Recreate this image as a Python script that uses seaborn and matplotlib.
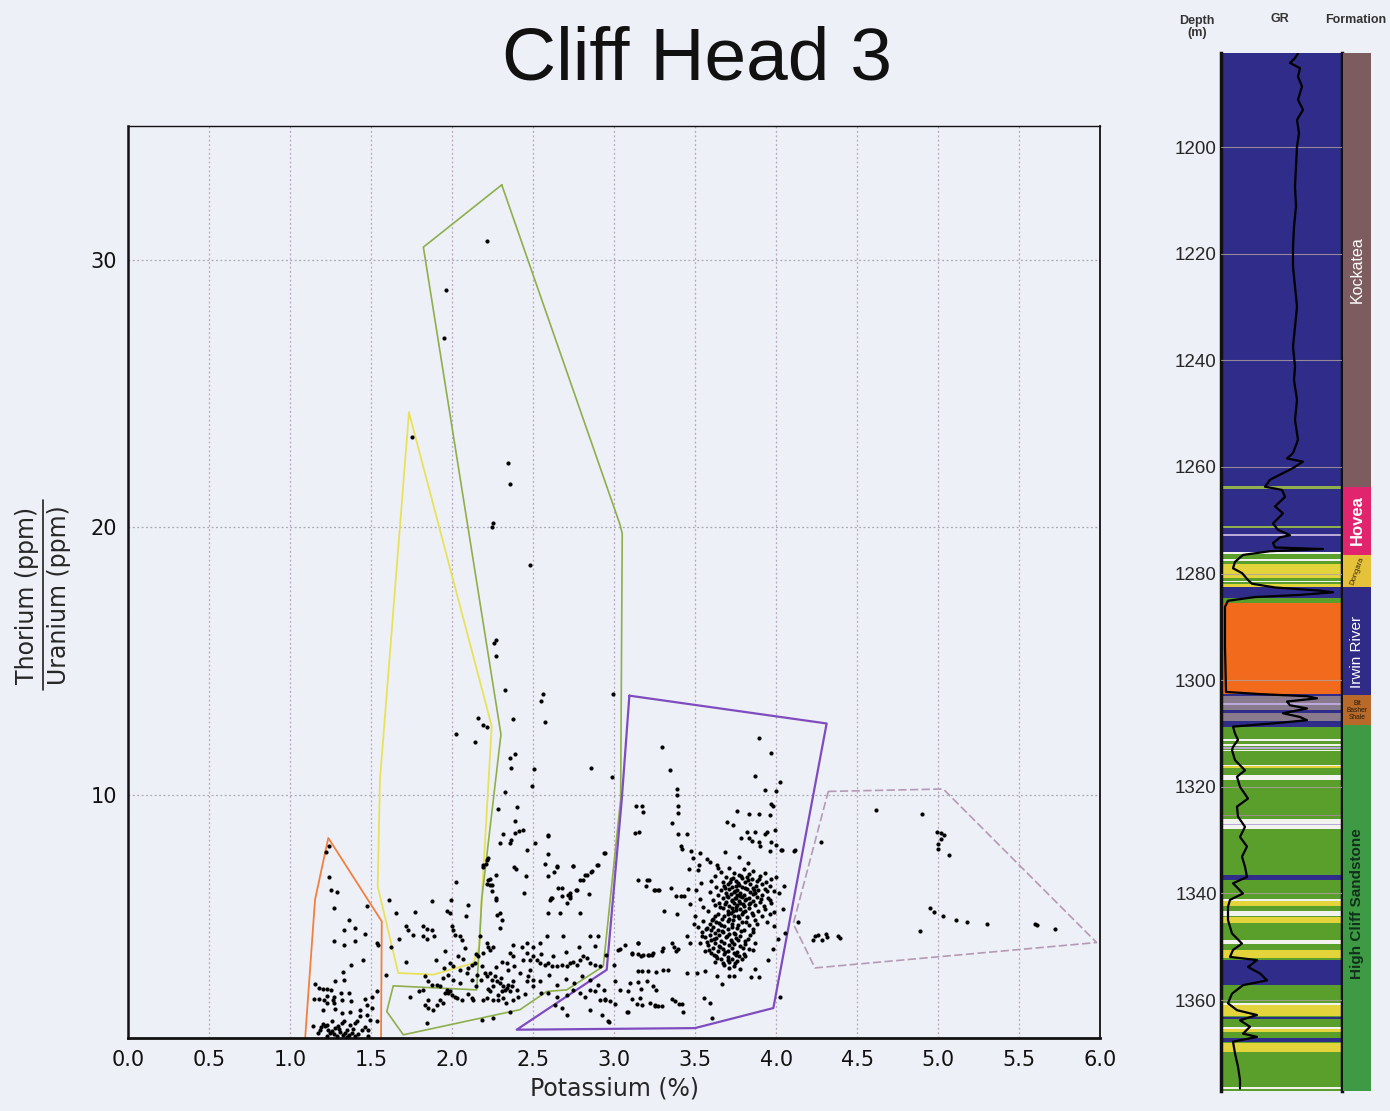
import numpy as np
import pandas as pd
import matplotlib
matplotlib.use("Agg")
import matplotlib.pyplot as plt
from matplotlib.lines import Line2D
import seaborn as sns

sns.set_theme(style="white")
plt.rcParams['font.family'] = ['DejaVu Sans']

BG = '#eef0f7'

# ------------------------------------------------------------------
# Scatter data : (Potassium %, Th/U ratio)
# ------------------------------------------------------------------
pts_high = [(2.213, 30.70), (1.960, 28.86), (1.951, 27.07), (1.750, 23.38), (2.343, 22.40),
            (2.355, 21.60), (2.252, 20.16), (2.244, 20.00), (2.482, 18.59), (2.272, 15.80),
            (2.260, 15.67), (2.272, 15.17), (2.324, 13.91), (2.561, 13.78), (2.550, 13.49),
            (2.995, 13.78)]

pts_upper_mid = [(2.159, 12.85), (2.373, 12.82), (2.571, 12.73), (2.190, 12.59), (2.213, 12.52),
                 (2.022, 12.27), (2.141, 11.95), (2.386, 11.51), (2.355, 11.36), (2.363, 10.98),
                 (2.503, 10.96), (2.855, 10.98), (2.493, 10.34), (2.987, 10.67), (2.324, 10.09),
                 (2.281, 9.48), (2.402, 9.53), (3.137, 9.59), (3.176, 9.34), (2.386, 9.00),
                 (3.155, 8.60), (2.312, 8.54), (2.386, 8.57), (2.414, 8.63), (2.435, 8.68),
                 (2.592, 8.47), (2.295, 8.18), (2.355, 8.18), (2.365, 8.31), (2.511, 8.18),
                 (2.460, 7.93), (2.935, 7.80), (2.592, 7.78), (2.219, 7.62), (2.211, 7.41),
                 (2.190, 7.31), (2.383, 7.28), (2.394, 7.21), (2.571, 7.39), (2.649, 7.31),
                 (2.631, 7.12), (2.746, 7.33), (2.898, 7.36), (2.855, 7.12), (2.818, 6.98),
                 (2.272, 7.01), (2.454, 6.97), (2.592, 6.94), (2.787, 6.81), (2.022, 6.72),
                 (2.232, 6.83), (2.213, 6.66), (2.244, 6.62), (2.680, 6.49), (2.765, 6.43),
                 (2.729, 6.34), (2.726, 6.22), (2.846, 6.28), (2.445, 6.34), (2.272, 6.13),
                 (2.612, 6.13), (3.217, 6.81), (3.195, 6.57), (3.248, 6.42), (3.275, 6.42),
                 (2.593, 8.50), (2.944, 7.82), (2.892, 7.38), (2.861, 7.13), (2.830, 7.01),
                 (2.810, 6.82), (2.748, 7.32), (2.645, 7.32), (3.149, 6.82), (3.170, 9.56),
                 (3.129, 8.57), (3.201, 6.82), (3.252, 6.45), (3.273, 6.45)]

pts_lowk = [(1.241, 8.07), (1.219, 7.84), (1.241, 6.91), (1.250, 6.45), (1.291, 6.36),
            (1.272, 5.76), (1.472, 5.82), (1.363, 5.32), (1.332, 4.95), (1.400, 5.01),
            (1.462, 4.79), (1.272, 4.54), (1.334, 4.39), (1.402, 4.54), (1.534, 4.45),
            (1.544, 4.39), (1.451, 3.83), (1.373, 3.64), (1.328, 3.35), (1.332, 3.08),
            (1.153, 2.92), (1.180, 2.77), (1.204, 2.75), (1.229, 2.73), (1.250, 2.70),
            (1.276, 3.02), (1.534, 2.64), (1.148, 2.37), (1.180, 2.36), (1.210, 2.33),
            (1.229, 2.48), (1.262, 2.33), (1.272, 2.45), (1.311, 2.58), (1.363, 2.58),
            (1.225, 2.21), (1.270, 2.21), (1.318, 2.33), (1.375, 2.27), (1.462, 2.36),
            (1.503, 2.43), (1.200, 1.96), (1.276, 1.98), (1.318, 1.83), (1.369, 1.89),
            (1.431, 1.96), (1.476, 2.14), (1.503, 2.02), (1.431, 1.71), (1.476, 1.77),
            (1.492, 1.56), (1.534, 1.52), (1.142, 1.33), (1.184, 1.21), (1.215, 1.33),
            (1.235, 1.21), (1.245, 1.08), (1.276, 1.27), (1.297, 1.33), (1.307, 1.14),
            (1.328, 1.02), (1.349, 1.21), (1.369, 1.40), (1.379, 1.08), (1.400, 1.46),
            (1.414, 1.52), (1.441, 1.21), (1.482, 1.21), (1.482, 0.96), (1.173, 1.08),
            (1.256, 1.52), (1.225, 0.96), (1.287, 0.96), (1.349, 0.94), (1.200, 1.43),
            (1.318, 1.46), (1.26, 1.15), (1.30, 1.25), (1.34, 1.10), (1.39, 1.25),
            (1.42, 1.05), (1.46, 1.30), (1.19, 1.30), (1.23, 1.40), (1.33, 1.55),
            (1.36, 1.00), (1.27, 1.05), (1.40, 0.98)]

pts_mid = [(1.591, 3.27), (1.610, 6.07), (1.651, 5.57), (1.715, 5.10), (1.729, 4.95),
           (1.760, 4.76), (1.770, 5.61), (1.715, 3.76), (1.822, 5.07), (1.846, 4.99),
           (1.873, 4.95), (1.889, 4.70), (1.822, 4.70), (1.873, 6.01), (1.843, 4.61),
           (1.832, 3.20), (1.852, 3.02), (1.873, 2.89), (1.822, 2.70), (1.797, 2.64),
           (1.852, 2.33), (1.832, 2.14), (1.852, 2.02), (1.880, 1.96), (1.904, 2.14),
           (1.925, 2.33), (1.945, 2.21), (1.843, 1.46), (1.904, 2.89), (1.925, 2.83),
           (1.945, 3.14), (1.956, 2.58), (1.966, 2.70), (1.976, 2.58), (1.986, 2.64),
           (1.997, 2.52), (2.007, 3.08), (2.017, 2.45), (2.028, 2.39), (2.059, 2.33),
           (1.976, 3.27), (1.956, 4.14), (1.986, 3.70), (2.007, 3.58), (2.038, 3.95),
           (2.065, 3.85), (1.966, 5.63), (1.986, 5.57), (1.997, 5.07), (2.003, 4.95),
           (2.017, 4.76), (2.048, 4.70), (2.059, 4.58), (1.993, 6.07), (2.083, 5.45),
           (2.100, 5.88), (2.079, 4.26), (2.100, 3.52), (2.120, 3.64), (2.141, 3.70),
           (2.151, 3.27), (2.090, 3.33), (2.120, 3.08), (2.172, 4.70), (2.161, 3.95),
           (2.192, 4.08), (2.213, 4.45), (2.223, 4.32), (2.233, 4.20), (2.254, 4.32),
           (2.192, 7.38), (2.213, 7.57), (2.223, 6.82), (2.233, 6.63), (2.244, 6.38),
           (2.270, 6.07), (2.274, 5.51), (2.295, 5.57), (2.306, 5.32), (2.295, 5.01),
           (2.182, 3.58), (2.203, 3.33), (2.213, 3.20), (2.233, 3.33), (2.244, 3.08),
           (2.264, 3.20), (2.274, 3.02), (2.295, 2.96), (2.316, 2.83), (2.326, 2.70),
           (2.306, 2.64), (2.337, 2.77), (2.357, 2.64), (2.347, 2.89), (2.367, 2.83),
           (2.377, 3.02), (2.254, 2.83), (2.233, 2.64), (2.213, 2.39), (2.192, 2.33),
           (2.254, 2.33), (2.285, 2.33), (2.316, 2.39), (2.377, 2.33), (2.408, 2.45),
           (2.130, 2.33), (2.120, 2.39), (2.182, 1.58), (2.254, 1.65), (2.357, 1.89),
           (2.439, 3.83), (2.460, 4.08), (2.480, 3.83), (2.501, 3.95), (2.522, 3.83),
           (2.542, 3.70), (2.573, 3.64), (2.593, 3.70), (2.614, 3.58), (2.645, 3.58),
           (2.676, 3.64), (2.707, 3.58), (2.727, 3.70), (2.748, 3.76), (2.769, 3.64),
           (2.789, 3.83), (2.810, 3.95), (2.830, 3.89), (2.851, 3.70), (2.882, 3.64),
           (2.913, 3.58), (2.470, 3.20), (2.501, 3.08), (2.542, 3.02), (2.460, 3.02),
           (2.419, 3.33), (2.429, 4.32), (2.460, 4.45), (2.501, 4.32), (2.542, 4.45),
           (2.377, 4.39), (2.357, 4.08), (2.377, 3.95), (2.306, 3.76), (2.337, 3.70),
           (2.347, 3.45), (2.584, 4.70), (2.686, 4.70), (2.604, 6.07), (2.614, 6.13),
           (2.593, 5.57), (2.666, 5.57), (2.676, 6.20), (2.717, 6.26), (2.727, 6.13),
           (2.707, 5.95), (2.655, 6.51), (2.769, 6.45), (2.789, 5.57), (2.851, 4.70),
           (2.902, 4.70), (2.593, 2.58), (2.645, 2.45), (2.707, 2.52), (2.748, 2.70),
           (2.789, 2.58), (2.820, 2.45), (2.851, 2.70), (2.882, 2.64), (2.913, 2.33),
           (2.944, 2.33), (2.975, 2.27), (3.078, 1.89), (2.635, 2.14), (2.676, 2.02),
           (2.707, 1.77), (2.851, 1.96), (2.923, 1.77), (2.964, 1.52), (3.026, 4.20),
           (3.036, 4.23), (3.108, 4.08), (3.149, 4.45), (3.180, 4.01), (3.211, 4.01),
           (3.242, 4.08), (3.098, 2.96), (3.201, 3.02), (3.242, 2.83), (3.159, 2.39),
           (3.221, 2.21), (3.252, 2.14), (3.087, 2.64)]

pts_mid_dense = [(2.05, 2.95), (2.10, 2.55), (2.15, 2.85), (2.18, 3.05), (2.28, 2.50),
                 (2.33, 2.20), (2.40, 2.70), (2.45, 2.55), (2.50, 2.85), (2.55, 2.60),
                 (2.60, 3.25), (2.65, 2.90), (2.70, 3.10), (2.75, 2.95), (2.80, 3.20),
                 (2.85, 3.05), (2.90, 2.90), (2.62, 3.95), (2.70, 4.10), (2.78, 4.30),
                 (2.48, 3.45), (2.38, 3.60), (2.27, 3.55), (2.15, 4.05), (2.05, 3.45),
                 (1.95, 3.50), (1.90, 3.80), (2.55, 4.05), (2.95, 4.00), (2.88, 4.35),
                 (1.62, 4.30), (1.67, 4.60), (1.74, 2.45), (2.22, 2.75), (2.30, 3.15)]

pts_purple = [(3.295, 11.78), (3.347, 10.92), (3.386, 10.21), (3.388, 10.00), (3.893, 12.13),
              (3.970, 11.55), (3.872, 10.69), (4.024, 10.46), (3.931, 10.18), (3.999, 10.15),
              (3.396, 9.56), (3.394, 9.30), (3.357, 8.94), (3.394, 8.53), (3.411, 8.07),
              (3.417, 7.98), (3.448, 8.54), (3.475, 7.90), (3.760, 9.39), (3.835, 9.29),
              (3.893, 9.29), (3.695, 8.96), (3.732, 8.85), (3.962, 9.25), (3.983, 9.56),
              (3.993, 8.69), (3.968, 9.66), (3.822, 8.59), (3.870, 8.59), (3.946, 8.59),
              (3.783, 8.38), (3.835, 8.38), (3.849, 8.25), (3.896, 8.22), (3.900, 8.09),
              (3.931, 8.54), (3.967, 8.23), (4.001, 8.13), (4.032, 7.94), (4.112, 7.88),
              (3.962, 7.89), (3.685, 7.87), (3.769, 7.65), (3.828, 7.44), (3.530, 7.82),
              (3.575, 7.61), (3.590, 7.48), (3.633, 7.37), (3.639, 7.24), (3.487, 7.62),
              (3.463, 7.22), (3.526, 7.37), (3.518, 7.18), (3.351, 6.51), (3.380, 6.20),
              (3.415, 6.20), (3.433, 6.22), (3.458, 6.47), (3.503, 6.42), (3.536, 6.68),
              (3.308, 5.66), (3.388, 5.55), (4.057, 4.81), (4.026, 2.45),
              (2.939, 2.68), (2.942, 2.37), (2.966, 1.50), (3.001, 3.64), (3.005, 3.04),
              (3.007, 2.18), (3.065, 4.39), (3.036, 2.69), (3.084, 1.89), (3.108, 4.05),
              (3.147, 4.05), (3.145, 4.45), (3.168, 3.98), (3.213, 4.01), (3.232, 4.01),
              (3.147, 3.40), (3.170, 3.40), (3.209, 3.40), (3.258, 3.35), (3.300, 3.43),
              (3.334, 3.43), (3.149, 2.98), (3.168, 2.73), (3.257, 2.70), (3.110, 2.37),
              (3.139, 2.17), (3.170, 2.15), (3.252, 2.11), (3.273, 2.11), (3.294, 2.08),
              (3.357, 2.37), (3.376, 2.27), (3.399, 2.18), (3.419, 2.18), (3.427, 1.89),
              (3.294, 4.14), (3.300, 4.26), (3.355, 4.45), (3.370, 4.30), (3.392, 4.23),
              (3.384, 4.14), (3.448, 4.70), (3.468, 4.45), (3.448, 3.33), (3.510, 3.33),
              (3.559, 3.39), (3.633, 3.20), (3.668, 2.92), (3.709, 3.20), (3.742, 3.20),
              (3.555, 2.39), (3.590, 2.21), (3.602, 1.65), (3.845, 3.18), (3.893, 3.18),
              (3.872, 3.48), (3.47, 5.92), (3.50, 5.48), (3.53, 6.11), (3.49, 5.18),
              (3.55, 5.81), (4.00, 6.92), (4.02, 6.31), (4.04, 5.72), (3.99, 5.08),
              (4.01, 4.62), (4.05, 6.58), (3.98, 4.22), (3.95, 3.82)]

pts_cluster = [(3.71, 7.27), (3.80, 7.22), (3.66, 7.12), (3.74, 7.08), (3.86, 7.13), (3.93, 7.06),
               (3.62, 6.96), (3.69, 6.93), (3.77, 6.98), (3.82, 6.92), (3.90, 6.97),
               (3.72, 6.84), (3.79, 6.87), (3.85, 6.83), (3.97, 6.86),
               (3.60, 6.76), (3.67, 6.73), (3.75, 6.78), (3.81, 6.74), (3.88, 6.77), (3.94, 6.72),
               (3.70, 6.66), (3.77, 6.63), (3.84, 6.67), (3.91, 6.64),
               (3.63, 6.55), (3.68, 6.58), (3.73, 6.53), (3.79, 6.56), (3.86, 6.52), (3.96, 6.57),
               (3.66, 6.45), (3.71, 6.47), (3.76, 6.43), (3.82, 6.46), (3.89, 6.44), (3.93, 6.48),
               (3.59, 6.36), (3.69, 6.33), (3.74, 6.37), (3.78, 6.34), (3.84, 6.36), (3.87, 6.32),
               (3.99, 6.38), (3.64, 6.25), (3.72, 6.27), (3.76, 6.23), (3.80, 6.26), (3.91, 6.24),
               (3.67, 6.15), (3.70, 6.17), (3.75, 6.13), (3.79, 6.16), (3.83, 6.14), (3.88, 6.17),
               (3.95, 6.12), (3.61, 6.05), (3.73, 6.07), (3.77, 6.03), (3.81, 6.06), (3.86, 6.04),
               (3.65, 5.95), (3.69, 5.97), (3.74, 5.93), (3.78, 5.96), (3.84, 5.94), (3.90, 5.98),
               (3.97, 5.93), (3.62, 5.86), (3.71, 5.84), (3.76, 5.87), (3.80, 5.83), (3.87, 5.86),
               (3.67, 5.75), (3.73, 5.77), (3.78, 5.73), (3.83, 5.76), (3.93, 5.74),
               (3.58, 5.66), (3.70, 5.63), (3.75, 5.67), (3.81, 5.64), (3.89, 5.66),
               (3.64, 5.55), (3.72, 5.57), (3.79, 5.53), (3.85, 5.56), (3.96, 5.54),
               (3.68, 5.45), (3.74, 5.47), (3.82, 5.43), (3.91, 5.46),
               (3.61, 5.36), (3.71, 5.34), (3.77, 5.37), (3.87, 5.33),
               (3.55, 5.26), (3.63, 5.24), (3.70, 5.27), (3.79, 5.23),
               (3.59, 5.16), (3.66, 5.14), (3.73, 5.17), (3.83, 5.13),
               (3.52, 5.06), (3.61, 5.04), (3.68, 5.07), (3.76, 5.03),
               (3.57, 4.96), (3.64, 4.94), (3.70, 4.97), (3.80, 4.93), (3.86, 4.96),
               (3.54, 4.86), (3.62, 4.84), (3.67, 4.87), (3.74, 4.83),
               (3.59, 4.76), (3.65, 4.74), (3.71, 4.77), (3.78, 4.73), (3.84, 4.76),
               (3.56, 4.66), (3.63, 4.64), (3.69, 4.67), (3.75, 4.63),
               (3.60, 4.56), (3.66, 4.54), (3.72, 4.57), (3.81, 4.53),
               (3.53, 4.46), (3.62, 4.44), (3.68, 4.47), (3.74, 4.43), (3.87, 4.46),
               (3.58, 4.36), (3.65, 4.34), (3.71, 4.37), (3.78, 4.33),
               (3.61, 4.26), (3.67, 4.24), (3.73, 4.27), (3.83, 4.23),
               (3.56, 4.16), (3.64, 4.14), (3.70, 4.17), (3.76, 4.13),
               (3.60, 4.06), (3.68, 4.04), (3.74, 4.07), (3.80, 4.03),
               (3.63, 3.96), (3.70, 3.94), (3.77, 3.97),
               (3.66, 3.86), (3.73, 3.84), (3.79, 3.87),
               (3.62, 3.76), (3.71, 3.74), (3.76, 3.77),
               (3.68, 3.63), (3.74, 3.61), (3.71, 3.51), (3.78, 3.49)]

pts_cluster_core = [(3.735, 6.90), (3.765, 6.71), (3.805, 6.50), (3.745, 6.40), (3.775, 6.21),
                    (3.815, 6.09), (3.695, 6.20), (3.725, 6.02), (3.755, 5.80), (3.795, 5.62),
                    (3.835, 5.90), (3.855, 6.30), (3.875, 6.60), (3.905, 6.10), (3.925, 5.85),
                    (3.705, 5.55), (3.735, 5.30), (3.765, 5.12), (3.665, 4.90), (3.695, 4.70),
                    (3.725, 4.50), (3.655, 4.30), (3.685, 4.10), (3.615, 4.60), (3.645, 5.20),
                    (3.785, 4.90), (3.805, 4.40), (3.755, 4.00), (3.705, 3.80), (3.635, 3.90),
                    (3.575, 4.50), (3.595, 4.95), (3.625, 5.45), (3.655, 5.80), (3.685, 6.50),
                    (3.715, 6.75), (3.835, 7.05), (3.895, 6.85), (3.945, 6.40), (3.965, 6.05),
                    (3.985, 5.60), (3.945, 5.25), (3.885, 5.15), (3.855, 4.85), (3.825, 4.60),
                    (3.795, 4.25), (3.765, 4.55), (3.745, 4.80), (3.725, 5.05), (3.815, 5.25),
                    (3.855, 5.50), (3.765, 5.45), (3.735, 5.65), (3.795, 5.90), (3.755, 6.60),
                    (3.785, 6.95), (3.825, 6.80), (3.865, 6.45), (3.745, 6.15), (3.685, 5.90),
                    (3.665, 5.35), (3.605, 5.30), (3.575, 5.00), (3.545, 4.70), (3.585, 4.20),
                    (3.615, 4.00), (3.675, 3.70), (3.745, 3.70), (3.805, 3.95), (3.855, 4.20)]

pts_right = [(4.615, 9.41), (4.901, 9.26), (4.992, 8.62), (5.018, 8.57), (5.039, 8.50),
             (5.020, 8.35), (4.998, 8.17), (4.998, 7.98), (5.070, 7.74), (4.950, 5.75),
             (4.977, 5.60), (5.029, 5.47), (5.109, 5.31), (5.181, 5.25), (5.303, 5.16),
             (4.889, 4.89), (5.599, 5.16), (5.610, 5.14), (5.722, 4.98), (4.137, 5.24),
             (4.226, 4.55), (4.240, 4.72), (4.261, 4.74), (4.282, 4.58), (4.308, 4.80),
             (4.312, 4.68), (4.384, 4.72), (4.395, 4.64), (4.117, 7.92), (4.035, 7.94),
             (4.275, 8.22)]

# ------------------------------------------------------------------
# Field polygons (K %, Th/U)
# ------------------------------------------------------------------
poly_orange_k = [1.085, 1.153, 1.235, 1.565, 1.560]
poly_orange_thu = [0.3, 6.07, 8.38, 5.26, 0.3]
poly_yellow_k = [1.733, 2.244, 2.182, 2.167, 2.130, 1.883, 1.667, 1.540, 1.554, 1.733]
poly_yellow_thu = [24.29, 12.56, 6.07, 4.32, 3.70, 3.27, 3.33, 6.57, 10.56, 24.29]
poly_green_k = [2.306, 1.822, 2.301, 2.182, 2.167, 2.151, 1.636, 1.596, 1.698, 2.419,
                2.584, 2.707, 2.933, 3.040, 3.050, 3.036, 2.306]
poly_green_thu = [32.80, 30.47, 12.25, 6.07, 4.32, 2.70, 2.85, 1.89, 1.02, 1.96,
                  2.64, 2.70, 3.58, 9.82, 19.76, 20.10, 32.80]
poly_purple_k = [3.094, 4.312, 3.983, 3.499, 2.398, 2.954, 3.047, 3.094]
poly_purple_thu = [13.70, 12.66, 2.02, 1.27, 1.21, 3.45, 9.82, 13.70]
poly_pink_k = [4.322, 5.032, 5.979, 4.240, 4.106, 4.322]
poly_pink_thu = [10.12, 10.21, 4.47, 3.52, 5.17, 10.12]

x_ticks = [0.0, 0.5, 1.0, 1.5, 2.0, 2.5, 3.0, 3.5, 4.0, 4.5, 5.0, 5.5, 6.0]
y_ticks = [10, 20, 30]

# ------------------------------------------------------------------
# Well log data
# ------------------------------------------------------------------
gr_depth = [1182.4, 1183.3, 1184.2, 1185.2, 1186.8, 1188.6, 1191.1, 1193.0, 1194.9, 1197.4,
            1199.9, 1203.6, 1207.4, 1211.1, 1214.9, 1218.7, 1222.4, 1226.2, 1229.9, 1233.7,
            1237.4, 1241.2, 1243.7, 1247.4, 1251.2, 1254.9, 1257.4, 1258.4, 1259.0, 1260.2,
            1262.4, 1263.7, 1264.3, 1265.6, 1267.4, 1268.7, 1270.6, 1271.8, 1272.8, 1273.2,
            1274.3, 1275.1, 1275.4, 1275.8, 1276.5, 1277.8, 1279.0, 1279.9, 1281.2, 1281.9,
            1282.6, 1283.2, 1283.5, 1284.0, 1284.4, 1285.1, 1286.2, 1293.7, 1302.2, 1302.6,
            1303.0, 1303.4, 1304.0, 1304.7, 1305.3, 1306.2, 1306.9, 1307.5, 1308.1, 1308.7,
            1310.0, 1311.2, 1312.5, 1313.1, 1315.0, 1316.9, 1318.1, 1320.0, 1322.2, 1323.7,
            1325.6, 1327.5, 1329.4, 1331.2, 1333.1, 1335.0, 1336.9, 1338.1, 1340.0, 1341.2,
            1342.5, 1345.0, 1347.5, 1349.4, 1350.6, 1351.9, 1352.5, 1353.8, 1355.0, 1356.3,
            1357.2, 1358.8, 1360.6, 1361.9, 1362.8, 1363.8, 1365.0, 1366.3, 1366.9, 1367.8,
            1370.0, 1372.5, 1375.0, 1376.6]
gr_value = [77, 74, 69, 79, 77, 81, 77, 82, 76, 78,
            76, 75, 74, 75, 73, 72, 72, 74, 76, 74,
            72, 74, 73, 76, 74, 77, 72, 66, 82, 72,
            49, 44, 61, 64, 54, 62, 52, 57, 69, 59,
            52, 54, 102, 49, 22, 14, 12, 21, 27, 31,
            54, 99, 112, 79, 34, 7, 4, 4, 5, 39,
            86, 96, 66, 69, 86, 62, 79, 86, 52, 12,
            14, 17, 12, 11, 14, 24, 16, 19, 27, 16,
            17, 24, 19, 26, 21, 24, 26, 12, 22, 9,
            7, 7, 11, 21, 12, 9, 36, 27, 39, 46,
            22, 11, 7, 16, 36, 19, 29, 22, 36, 12,
            14, 17, 19, 19]

lith_colors = {'shale': '#2f2c8a', 'sand': '#5a9e2c', 'silt': '#e4d43c', 'white': '#f2f2ee',
               'coal': '#f26b1d', 'mauve': '#8a7a8e', 'lilac': '#b9a8d8', 'line': '#9c8c8c',
               'thin': '#8fb04a'}
lith_top = [1182.4, 1263.5, 1264.1, 1271.0, 1271.5, 1272.6, 1273.0, 1275.9, 1276.4, 1277.2,
            1277.7, 1278.2, 1280.9, 1281.3, 1281.6, 1281.9, 1282.6, 1284.6, 1285.5, 1302.5,
            1303.0, 1304.3, 1304.6, 1305.5, 1306.1, 1307.7, 1308.7,
            1311.0, 1311.9, 1312.6, 1313.0, 1315.9, 1316.1, 1317.8, 1325.2, 1326.0, 1326.9,
            1327.2, 1336.6, 1341.1, 1341.5, 1343.3, 1344.4, 1348.7, 1350.6, 1352.4, 1360.5,
            1361.0, 1363.2, 1365.1, 1365.5, 1367.2, 1368.1, 1376.3]
lith_base = [1263.5, 1264.1, 1271.0, 1271.5, 1272.6, 1273.0, 1275.9, 1276.4, 1277.2, 1277.7,
             1278.2, 1280.9, 1281.3, 1281.6, 1281.9, 1282.6, 1284.6, 1285.5, 1302.5, 1303.0,
             1304.3, 1304.6, 1305.5, 1306.1, 1307.7, 1308.7, 1377.0,
             1311.4, 1312.3, 1312.9, 1313.2, 1316.1, 1316.5, 1318.7, 1325.4, 1326.9, 1327.1,
             1328.0, 1337.5, 1341.5, 1342.3, 1344.2, 1345.6, 1349.5, 1352.2, 1357.2, 1361.0,
             1363.0, 1363.5, 1365.5, 1366.0, 1367.8, 1369.7, 1376.7]
lith_type = ['shale', 'thin', 'shale', 'thin', 'shale', 'lilac', 'shale', 'white', 'sand', 'white',
             'sand', 'silt', 'sand', 'white', 'sand', 'silt', 'shale', 'sand', 'coal', 'shale',
             'mauve', 'lilac', 'mauve', 'shale', 'mauve', 'shale', 'sand',
             'white', 'white', 'lilac', 'white', 'white', 'silt', 'white', 'line', 'white', 'lilac',
             'white', 'shale', 'white', 'silt', 'white', 'silt', 'white', 'silt', 'shale', 'white',
             'silt', 'shale', 'white', 'silt', 'shale', 'silt', 'white']

form_names = ['Kockatea', 'Hovea', 'Dongara', 'Irwin River', 'Bit\nBasher\nShale',
              'High Cliff Sandstone']
form_top = [1182.4, 1263.7, 1276.5, 1282.5, 1302.8, 1308.4]
form_base = [1263.7, 1276.5, 1282.5, 1302.8, 1308.4, 1377.0]
form_colors = ['#7c5c5e', '#e0246e', '#e5c239', '#2f2b87', '#b86a2a', '#3e9a44']
form_label_depth = [1223.0, 1270.0, 1279.5, 1294.7, 1305.6, 1342.0]
depth_ticks = [1200, 1220, 1240, 1260, 1280, 1300, 1320, 1340, 1360]

# ------------------------------------------------------------------
fig = plt.figure(figsize=(13.9, 11.11), dpi=100)
fig.patch.set_facecolor(BG)

ax = fig.add_axes([128.3 / 1390, 1 - 1038 / 1111, (1100 - 128.3) / 1390, (1038 - 126) / 1111])
ax.set_facecolor(BG)

all_pts = (pts_high + pts_upper_mid + pts_lowk + pts_mid + pts_mid_dense + pts_purple
           + pts_cluster + pts_cluster_core + pts_right)
df = pd.DataFrame(all_pts, columns=['K', 'ThU'])

ax.plot(poly_orange_k, poly_orange_thu, color='#f08040', lw=1.3, zorder=2)
ax.plot(poly_yellow_k, poly_yellow_thu, color='#e8e25a', lw=1.3, zorder=2)
ax.plot(poly_green_k, poly_green_thu, color='#8fae4c', lw=1.2, zorder=2)
ax.plot(poly_purple_k, poly_purple_thu, color='#7f4cc0', lw=1.6, zorder=2)
ax.plot(poly_pink_k, poly_pink_thu, color='#b49ab4', lw=1.2, ls=(0, (5, 2)), zorder=2)

sns.scatterplot(data=df, x='K', y='ThU', ax=ax, color='black', s=9, linewidth=0, zorder=3)

ax.set_xlim(0, 6)
ax.set_ylim(0.9, 35)
ax.set_xticks(x_ticks)
ax.set_xticklabels([f'{v:.1f}' for v in x_ticks])
ax.set_yticks(y_ticks)
ax.set_yticklabels([str(v) for v in y_ticks])
ax.tick_params(axis='both', length=0, labelsize=15, colors='#111111')
ax.tick_params(axis='x', pad=9)
ax.tick_params(axis='y', pad=8)
ax.xaxis.grid(True, linestyle=(0, (1.5, 2)), color='#b8a4bc', lw=0.9)
ax.yaxis.grid(True, linestyle=(0, (1.5, 2)), color='#a8a8b4', lw=0.9)
ax.set_axisbelow(True)
ax.set_xlabel('Potassium (%)', fontsize=17, labelpad=4)
ax.set_ylabel('')
for side, lw in [('left', 1.8), ('bottom', 2.0), ('top', 1.0), ('right', 1.3)]:
    ax.spines[side].set_visible(True)
    ax.spines[side].set_color('#111111')
    ax.spines[side].set_linewidth(lw)

# y label as fraction
fig.text(27 / 1390, 1 - 595 / 1111, 'Thorium (ppm)', rotation=90, fontsize=17,
         ha='center', va='center')
fig.text(59 / 1390, 1 - 595 / 1111, 'Uranium (ppm)', rotation=90, fontsize=17,
         ha='center', va='center')
fig.add_artist(Line2D([43 / 1390, 43 / 1390], [1 - 500 / 1111, 1 - 690 / 1111],
                      transform=fig.transFigure, color='#222222', lw=1.2))

fig.text(697 / 1390, 1 - 60 / 1111, 'Cliff Head 3', fontsize=54,
         family=['Liberation Sans', 'DejaVu Sans'], ha='center', va='center', color='#111111')

# ------------------------------------------------------------------
# Log panel
ax2 = fig.add_axes([1221 / 1390, 1 - 1090.7 / 1111, 120.7 / 1390, (1090.7 - 53.3) / 1111])
ax2.set_facecolor(BG)
for t, b, ty in zip(lith_top, lith_base, lith_type):
    z = 1 if (ty in ('shale', 'sand', 'coal') and b - t > 5) else 1.5
    ax2.axhspan(t, b, color=lith_colors[ty], lw=0, zorder=z)
ax2.plot(gr_value, gr_depth, color='black', lw=1.6, zorder=4)
ax2.set_xlim(0, 120.7)
ax2.set_ylim(1377.0, 1182.4)
ax2.set_xticks([])
ax2.set_yticks(depth_ticks)
ax2.set_yticklabels([str(d) for d in depth_ticks], fontsize=13.5,
                    family=['Liberation Sans', 'DejaVu Sans'])
ax2.tick_params(axis='y', length=0, pad=3)
ax2.yaxis.grid(True, color='#b0a0a0', lw=0.8, alpha=0.8, zorder=2)
ax2.set_axisbelow(False)
for side in ['top', 'bottom']:
    ax2.spines[side].set_visible(False)
for side in ['left', 'right']:
    ax2.spines[side].set_visible(True)
    ax2.spines[side].set_color('#111111')
    ax2.spines[side].set_linewidth(2.5)

ax3 = fig.add_axes([1343.3 / 1390, 1 - 1090.7 / 1111, 27.4 / 1390, (1090.7 - 53.3) / 1111])
ax3.set_facecolor(BG)
for t, b, c in zip(form_top, form_base, form_colors):
    ax3.axhspan(t, b, color=c, lw=0)
ax3.set_xlim(0, 1)
ax3.set_ylim(1377.0, 1182.4)
ax3.set_xticks([])
ax3.set_yticks([])
for s in ax3.spines.values():
    s.set_visible(False)

lab_style = [dict(color='white', fontsize=11.5, rotation=90),
             dict(color='white', fontsize=12, rotation=90, weight='bold'),
             dict(color='#3a2a10', fontsize=5.5, rotation=70),
             dict(color='white', fontsize=11, rotation=90),
             dict(color='#2a1a08', fontsize=4.8, rotation=0, linespacing=1.0),
             dict(color='#10301a', fontsize=11, rotation=90, weight='bold')]
for name, d, st in zip(form_names, form_label_depth, lab_style):
    ax3.text(0.5, d, name, ha='center', va='center',
             family=['Liberation Sans', 'DejaVu Sans'], **st)

hdr = dict(fontsize=9, weight='bold', color='#333333', ha='center', va='center',
           family=['Liberation Sans', 'DejaVu Sans'])
fig.text(1197 / 1390, 1 - 27 / 1111, 'Depth\n(m)', linespacing=0.9, **hdr)
fig.text(1280 / 1390, 1 - 19 / 1111, 'GR', **hdr)
fig.text(1356 / 1390, 1 - 20 / 1111, 'Formation', **hdr)

fig.savefig('out.png', dpi=100, facecolor=BG)
